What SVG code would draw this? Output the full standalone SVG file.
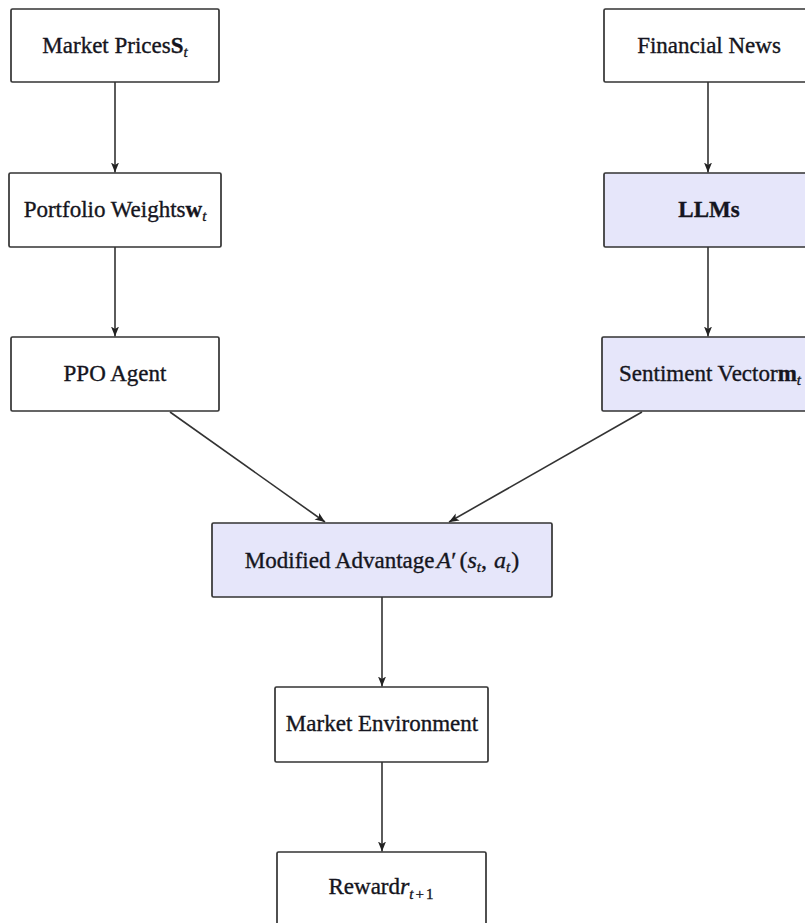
<svg xmlns="http://www.w3.org/2000/svg" width="805" height="923" viewBox="0 0 805 923">
<style>
.box{fill:#ffffff;stroke:#333333;stroke-width:1.7}
.hl{fill:#e6e6fa}
.lbl{font-family:"Liberation Serif","Times New Roman",serif;font-size:23px;fill:#151520;stroke:#151520;stroke-width:0.35;text-anchor:middle}
.b{font-weight:bold}
.i{font-style:italic}
.m{font-size:24px;font-style:italic}
.sub{font-size:15px;font-style:italic}
.edge{fill:none;stroke:#333333;stroke-width:1.6}
</style>
<defs>
<marker id="ah" markerUnits="userSpaceOnUse" markerWidth="12" markerHeight="10" refX="10" refY="4" orient="auto" viewBox="0 0 12 10">
<path d="M0,0 L10,4 L0,8 L2.5,4 Z" fill="#222222"/>
</marker>
</defs>
<g id="connectors">
<line class="edge" x1="115" y1="82" x2="115" y2="172.5" marker-end="url(#ah)"/>
<line class="edge" x1="708" y1="82" x2="708" y2="172.5" marker-end="url(#ah)"/>
<line class="edge" x1="115" y1="247" x2="115" y2="336.5" marker-end="url(#ah)"/>
<line class="edge" x1="708" y1="247" x2="708" y2="336.5" marker-end="url(#ah)"/>
<line class="edge" x1="170" y1="412" x2="325" y2="522" marker-end="url(#ah)"/>
<line class="edge" x1="642" y1="412" x2="449" y2="522" marker-end="url(#ah)"/>
<line class="edge" x1="382" y1="597" x2="382" y2="686.5" marker-end="url(#ah)"/>
<line class="edge" x1="382" y1="762" x2="382" y2="851.5" marker-end="url(#ah)"/>
</g>
<g id="market-prices">
<rect class="box" x="11" y="9" width="208" height="73" rx="1.5"/>
<text class="lbl" x="115" y="53">Market Prices<tspan class="b">S</tspan><tspan class="sub" dy="4">t</tspan></text>
</g>
<g id="financial-news">
<rect class="box" x="604" y="9" width="210" height="73" rx="1.5"/>
<text class="lbl" x="709" y="53">Financial News</text>
</g>
<g id="portfolio-weights">
<rect class="box" x="9" y="173" width="212" height="74" rx="1.5"/>
<text class="lbl" x="115" y="217">Portfolio Weights<tspan class="b">w</tspan><tspan class="sub" dy="4">t</tspan></text>
</g>
<g id="llms">
<rect class="box hl" x="604" y="173" width="210" height="74" rx="1.5"/>
<text class="lbl b" x="709" y="217">LLMs</text>
</g>
<g id="ppo-agent">
<rect class="box" x="11" y="337" width="208" height="74" rx="1.5"/>
<text class="lbl" x="115" y="381">PPO Agent</text>
</g>
<g id="sentiment-vector">
<rect class="box hl" x="602" y="337" width="214" height="74" rx="1.5"/>
<text class="lbl" x="710" y="381">Sentiment Vector<tspan class="b">m</tspan><tspan class="sub" dy="4">t</tspan></text>
</g>
<g id="modified-advantage">
<rect class="box hl" x="212" y="523" width="340" height="74" rx="1.5"/>
<text class="lbl" x="382" y="568">Modified Advantage<tspan class="m" dx="2">A</tspan><tspan font-size="24">′</tspan><tspan font-size="24" dx="3">(</tspan><tspan class="m">s</tspan><tspan class="sub" dy="4">t</tspan><tspan dy="-4" font-size="24">,</tspan><tspan class="m" dx="7">a</tspan><tspan class="sub" dy="4">t</tspan><tspan dy="-4" font-size="24" dx="1">)</tspan></text>
</g>
<g id="market-environment">
<rect class="box" x="275" y="687" width="213" height="75" rx="1.5"/>
<text class="lbl" x="382" y="731">Market Environment</text>
</g>
<g id="reward">
<rect class="box" x="277" y="852" width="209" height="75" rx="1.5"/>
<text class="lbl" x="381" y="894">Reward<tspan class="m">r</tspan><tspan class="sub" dy="5">t</tspan><tspan class="sub" dx="2" style="font-style:normal">+</tspan><tspan class="sub" dx="2" style="font-style:normal">1</tspan></text>
</g>
</svg>
